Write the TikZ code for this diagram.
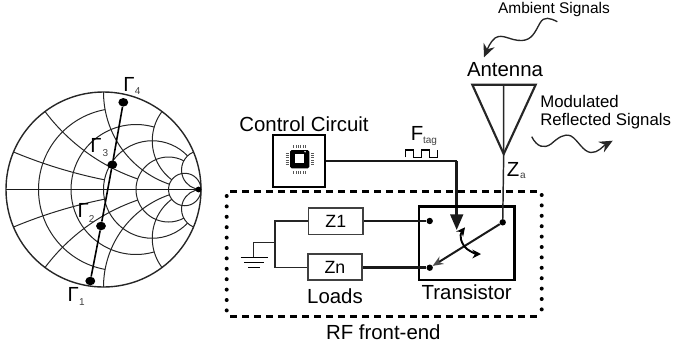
\documentclass[tikz,border=0pt]{standalone}
\usepackage{fontspec}
\setmainfont{Liberation Sans}
\usetikzlibrary{positioning,arrows.meta,calc,shapes.geometric}
\tikzset{
  chartline/.style={line width=0.75pt,black!85},
  wire/.style={line width=1.1pt,black!85},
  thickwire/.style={line width=1.9pt,black!90},
  dotnode/.style={circle,fill=black,inner sep=0pt,minimum size=4.8pt},
  markdot/.style={ellipse,fill=black,inner sep=0pt,minimum width=7.4pt,minimum height=6.4pt},
  loadbox/.style={draw=black!75,line width=1.3pt,minimum width=41pt,minimum height=19.6pt,inner sep=0pt,font=\fontsize{13.3}{15}\selectfont},
  bigtext/.style={font=\fontsize{15.3}{18}\selectfont,inner sep=0pt},
  smalltext/.style={font=\fontsize{12.6}{15}\selectfont,inner sep=0pt},
  subtext/.style={font=\fontsize{7.5}{9}\selectfont,inner sep=0pt,text=black!75},
  signal/.style={line width=1pt,black!85,-{Stealth[length=10pt,width=9pt,inset=3.5pt]}},
  boundary/.style={line width=2pt,dash pattern=on 5.2pt off 3.8pt},
  sideline/.style={line width=3pt,line cap=round,dash pattern=on 0pt off 7.8pt},
}
\begin{document}
\begin{tikzpicture}[x=0.75pt,y=-0.75pt]
  \useasboundingbox (0,0) rectangle (673,347);
  % chart
  \begin{scope}[shift={(103.5,189.5)},x=73.125pt,y=73.125pt]
    \foreach \s in {1,-1}{
      \foreach \rv/\xm in {0.2/1,0.5/2,1/5,2/5}{
        \pgfmathsetmacro\rad{1/(1+\rv)}
        \pgfmathsetmacro\endang{180-2*atan(\xm/(1+\rv))}
        \draw[chartline,yscale=\s] ({\rv*\rad-\rad},0) arc[start angle=180,end angle=\endang,radius=\rad];
      }
      \foreach \xv/\rm in {0.2/1,0.5/2,1/5,2/5,5/2000}{
        \pgfmathsetmacro\rad{1/\xv}
        \pgfmathsetmacro\startang{-90-2*atan(\xv)}
        \pgfmathsetmacro\endang{-90-2*atan(\xv/(1+\rm))}
        \draw[chartline,yscale=\s] ({1+\rad*cos(\startang)},{\rad+\rad*sin(\startang)}) arc[start angle=\startang,end angle=\endang,radius=\rad];
      }
    }
    \draw[chartline] (5/6,0) circle (1/6);
    \draw[line width=1.05pt,black!85] (0,0) circle (1);
    \draw[line width=1.2pt,black!90] (-1,0)--(1,0);
    \fill (0.975,0) circle (0.03);
  \end{scope}
  \node[markdot] (g1) at (90.3,281){};
  \node[markdot] (g2) at (101,226){};
  \node[markdot] (g3) at (112.3,164.7){};
  \node[markdot] (g4) at (123.3,102.3){};
  \draw[line width=1.2pt] (g1)--(g2)--(g3)--(g4);
  \node[bigtext] at (73.3,294.3){Γ}; \node[subtext] at (82,302){1};
  \node[bigtext] at (83.3,210.3){Γ}; \node[subtext] at (91.7,219){2};
  \node[bigtext] at (96,145){Γ}; \node[subtext] at (105.3,153.3){3};
  \node[bigtext] at (129,84.7){Γ}; \node[subtext] at (137.7,91){4};
  % front-end outline
  \draw[boundary] (230,191.7)--(537,191.7);
  \draw[boundary] (230,316.7)--(541,316.7);
  \draw[sideline] (226.7,196)--(226.7,316);
  \draw[sideline] (541.7,195)--(541.7,316);
  \node[bigtext] at (383.3,331.7){RF front-end};
  % control circuit
  \node[draw,line width=1.8pt,minimum size=39pt,inner sep=0pt] (ctrl) at (299.2,161){};
  \node[bigtext] at (304,124){Control Circuit};
  \fill[rounded corners=1.2pt] (290,150) rectangle (309.3,168.3);
  \fill[white] (295,154.3) rectangle (304.3,163.3);
  \fill[white] (305,151.7) circle (0.8);
  \foreach \p in {0,...,5}{
    \draw[black!65,line width=0.45pt] ({293.6+2.3*\p},145)--++(0,2.6) ({293.6+2.3*\p},171)--++(0,2.6);
    \draw[black!65,line width=0.45pt] (285.7,{153+2.3*\p})--++(2.8,0) (311,{153+2.3*\p})--++(2.8,0);
  }
  % control line
  \node[bigtext] at (417,133){F}; \node[subtext] at (430,141.7){tag};
  \draw[line width=1pt] (405.7,157.3)--++(0,-7.3)-|(413.3,157.3)-|(421.7,150)-|(429.3,157.3)-|(437.3,150);
  \coordinate (cornr) at (456.7,161);
  \coordinate (gate) at (456.7,230);
  \draw[line width=1.5pt,black!90] (ctrl.east|-cornr)--(cornr);
  \draw[thickwire,-{Triangle[length=11.7pt,width=9.5pt]}] (cornr)--(gate);
  % antenna
  \coordinate (tipl) at (472.3,84.7);
  \coordinate (tipr) at (535.7,84.7);
  \coordinate (feed) at (503.7,154);
  \draw[line width=1.6pt,line join=miter,black!85] (tipl)--(tipr)--(feed)--cycle;
  \node[bigtext] at (505,70){Antenna};
  \node[bigtext] at (513,169){Z}; \node[subtext] at (523,175.7){a};
  \node[smalltext,anchor=west] at (540,101.7){Modulated};
  \node[smalltext,anchor=west] at (540,120.7){Reflected Signals};
  \node[font=\fontsize{11.6}{14}\selectfont,inner sep=0pt] at (554,9){Ambient Signals};
  \coordinate (ambA) at (557.3,21.7);
  \coordinate (ambB) at (484,57.3);
  \draw[signal] (ambA) .. controls (550,18) and (544,16) .. (540,23) .. controls (535,32) and (532,40) .. (522,40.5) .. controls (510,41) and (503,33) .. (495,38) .. controls (490,42) and (487,50) .. (ambB);
  \coordinate (modA) at (531.7,136.7);
  \coordinate (modB) at (612.7,140.7);
  \draw[signal] (modA) .. controls (537,147) and (544,149) .. (551,144) .. controls (558,138) and (564,133) .. (571,136) .. controls (578,140) and (583,152) .. (591,152.5) .. controls (598,153) and (603,146) .. (modB);
  % transistor
  \node[draw,line width=1.8pt,minimum width=71.5pt,minimum height=55pt,inner sep=0pt] (trans) at (466.7,243.3){};
  \node[bigtext] at (466.7,292){Transistor};
  \node[dotnode] (swa) at (429.7,221){};
  \node[dotnode] (swb) at (429.7,267.7){};
  \node[dotnode] (swc) at (502.7,222.3){};
  \draw[wire] (feed|-tipl)--(feed)--(swc);
  \draw[line width=1.5pt,black!90,-{Stealth[length=8pt,width=6.5pt,black!70]}] (swc)--(swb);
  \coordinate (rotA) at (465,227.3);
  \coordinate (rotB) at (481,254);
  \draw[line width=1.4pt,{Stealth[length=6.5pt,width=6.5pt]}-{Stealth[length=6.5pt,width=6.5pt]}] (rotA) .. controls (459,235) and (461,244) .. (467,249) .. controls (471,252) and (476,254) .. (rotB);
  % loads
  \node[loadbox] (zone) at (335.8,221.3){Z1};
  \node[loadbox] (zen) at (335,267.2){Zn};
  \node[bigtext] at (335,296){Loads};
  \draw[thickwire] (zone.east|-swa)--(swa);
  \draw[thickwire] (zen.east|-swb)--(swb);
  \coordinate (junc) at (275,242.3);
  \coordinate (gnd) at (253.3,257.3);
  \draw[wire] (zone.west|-swa)-|(junc);
  \draw[wire] (zen.west|-swb)-|(junc);
  \draw[wire] (junc)-|(gnd);
  \draw[line width=1.2pt] ($(gnd)+(-12.6,0)$)--($(gnd)+(14.4,0)$);
  \draw[line width=1.1pt] ($(gnd)+(-9,5)$)--($(gnd)+(10.7,5)$);
  \draw[line width=1.1pt] ($(gnd)+(-5.3,10)$)--($(gnd)+(6.4,10)$);
\end{tikzpicture}
\end{document}
